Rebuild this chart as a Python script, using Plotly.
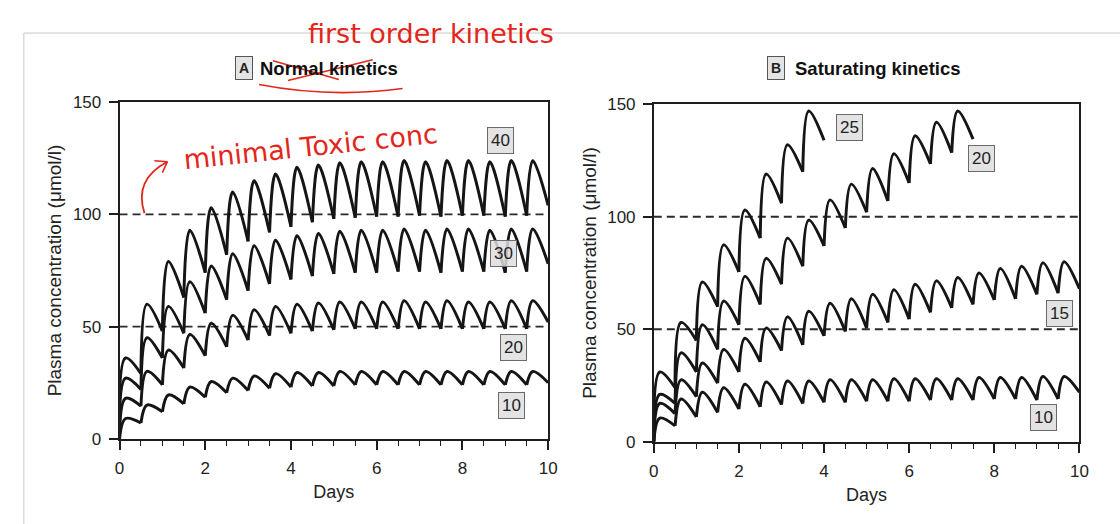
import plotly.graph_objects as go

W, H = 1120, 524

# ---------------- data ----------------
DOSE_INTERVAL = 0.5   # days between doses
PEAK_DELAY = 0.14     # days from dose to peak

# Panel A - normal (first-order) kinetics, dose labels 10/20/30/40
A_labels = ["40", "30", "20", "10"]
A40_peaks = [36, 60, 79, 93, 103, 110, 115, 118, 121, 122, 123, 123.5, 123.5, 124, 123.5, 124, 124, 123.5, 124, 124]
A40_troughs = [29, 48, 63, 74, 82, 88, 92, 94.5, 96.5, 98, 98.5, 99, 99, 99.5, 99, 99.5, 99.5, 99, 99.5, 104]
A30_peaks = [27, 45, 59, 70, 77, 82.5, 86, 88.5, 90.5, 91.5, 92.5, 93, 93, 93.5, 93, 93.5, 93.5, 93, 93.5, 93.5]
A30_troughs = [22, 36, 47, 56, 62, 66, 69, 71, 72.5, 73.5, 74, 74, 74.5, 74.5, 74, 74.5, 74.5, 74, 74.5, 78]
A20_peaks = [18, 30, 39.5, 46.5, 51.5, 55, 57.5, 59, 60, 60.5, 61, 61, 61, 61.5, 61, 61.5, 61, 61, 61.5, 61.5]
A20_troughs = [14.5, 24, 31.5, 37, 41, 44, 46, 47, 48, 48.5, 49, 49, 49, 49, 49, 49, 49, 49, 49, 52]
A10_peaks = [9, 15, 19.5, 23, 25.5, 27, 28, 29, 29.5, 29.5, 30, 30, 30, 30, 30, 30, 30, 30, 30, 30]
A10_troughs = [7, 12, 15.5, 18.5, 20.5, 21.5, 22.5, 23, 23.5, 23.5, 24, 24, 24, 24, 24, 24, 24, 24, 24, 25]
A_label_x = [8.88, 8.96, 9.19, 9.14]
A_label_y = [133, 82.7, 40.8, 14.8]

# Panel B - saturating kinetics, dose labels 10/15/20/25
B_labels = ["25", "20", "15", "10"]
B25_peaks = [31, 53, 71, 87.5, 103, 119, 132, 147]
B25_troughs = [24, 45, 60, 75.5, 90.5, 106, 120, 134]
B20_peaks = [21, 39.5, 52, 62.5, 73.5, 81.5, 90.5, 98.5, 107.5, 114.5, 121.5, 128, 136, 142, 147]
B20_troughs = [17, 31, 41, 52, 61, 70, 78, 87, 95, 102, 107, 115, 123.5, 128.5, 134.5]
B15_peaks = [17, 27.5, 35, 41, 46, 50.5, 55.5, 58, 61.5, 63.5, 65.5, 67.5, 70, 71.5, 73, 75, 77, 78, 79.5, 80]
B15_troughs = [12.5, 20, 26, 31, 35.5, 40.5, 43, 47, 49, 50.5, 53, 54.5, 57.5, 59.5, 61, 63, 63.5, 65.5, 66, 68]
B10_peaks = [10.5, 19, 22, 24, 25.5, 26.5, 27, 27, 27.5, 27.5, 27.5, 28, 28, 28, 28, 28.5, 28.5, 28.5, 29, 29]
B10_troughs = [7, 11, 13, 14.5, 15.5, 16.5, 17, 17.5, 17.5, 18, 18, 18, 18.5, 18.5, 18.5, 19, 19, 18.5, 19, 22]
B_label_x = [4.59, 7.7, 9.53, 9.15]
B_label_y = [139.7, 125.8, 57, 10.7]

REF_LEVELS = [50, 100]   # dashed reference concentrations
X_TICKS = [0, 2, 4, 6, 8, 10]
Y_TICKS = [0, 50, 100, 150]

# ---------------- helpers ----------------
# the page is photographed slightly scaled; these map target pixels to paper fractions
SX, OX, SY, OY = 0.9907, 3.1, 0.974, 5.7

def px(x):
    return (x - OX) / SX / W

def py(y):
    return 1 - (y - OY) / SY / H


def arches(peaks, troughs):
    xs, ys = [], []
    prev = 0.0
    for k, (p, t) in enumerate(zip(peaks, troughs)):
        t0 = k * DOSE_INTERVAL
        xs += [t0, t0 + PEAK_DELAY, t0 + DOSE_INTERVAL, None]
        ys += [prev, p, t, None]
        prev = t
    return xs, ys


LINE = dict(color="#151515", width=3, shape="spline", smoothing=1.0)
FONT = "Liberation Sans, Arial, Helvetica, sans-serif"

fig = go.Figure()

panelA = [(A40_peaks, A40_troughs), (A30_peaks, A30_troughs),
          (A20_peaks, A20_troughs), (A10_peaks, A10_troughs)]
panelB = [(B25_peaks, B25_troughs), (B20_peaks, B20_troughs),
          (B15_peaks, B15_troughs), (B10_peaks, B10_troughs)]

for (xa, ya), panel in (("x", "y"), panelA), (("x2", "y2"), panelB):
    for lv in REF_LEVELS:
        fig.add_trace(go.Scatter(x=[0, 10], y=[lv, lv], mode="lines", xaxis=xa, yaxis=ya,
                                 line=dict(color="#2a2a2a", width=1.8, dash="8px,5px"),
                                 hoverinfo="skip", showlegend=False))
    for pk, tr in panel:
        xs, ys = arches(pk, tr)
        fig.add_trace(go.Scatter(x=xs, y=ys, mode="lines", xaxis=xa, yaxis=ya,
                                 line=LINE, connectgaps=False,
                                 hoverinfo="skip", showlegend=False))

axis_common = dict(showline=True, mirror=True, linecolor="#1e1e1e", linewidth=1.7,
                   showgrid=False, zeroline=False, ticks="outside", ticklen=9,
                   tickwidth=1.5, tickcolor="#1e1e1e", ticklabelstandoff=4,
                   tickfont=dict(family=FONT, size=17, color="#222"))
minor = dict(ticks="outside", dtick=0.5, ticklen=5, tickwidth=1.2, tickcolor="#1e1e1e")
ytitle = dict(text="Plasma concentration (μmol/l)", font=dict(family=FONT, size=19, color="#222"),
              standoff=6)
xtitle = dict(text="Days", font=dict(family=FONT, size=18, color="#222"), standoff=8)

xA = dict(axis_common, domain=[px(118), px(548)], range=[0, 10], tickvals=X_TICKS,
          minor=minor, title=xtitle, anchor="y")
yA = dict(axis_common, domain=[py(440), py(100)], range=[0, 150], tickvals=Y_TICKS,
          title=ytitle, anchor="x")
xB = dict(axis_common, domain=[px(654), px(1081)], range=[0, 10], tickvals=X_TICKS,
          minor=minor, title=xtitle, anchor="y2")
yB = dict(axis_common, domain=[py(443), py(102)], range=[0, 150], tickvals=Y_TICKS,
          title=ytitle, anchor="x2")

annotations = []
box = dict(bgcolor="rgba(222,222,222,0.85)", bordercolor="#6a6a6a", borderwidth=1, borderpad=3)
for lab, lx, ly in zip(A_labels, A_label_x, A_label_y):
    annotations.append(dict(x=lx, y=ly, xref="x", yref="y", text=lab, showarrow=False,
                            xanchor="center", yanchor="middle",
                            font=dict(family=FONT, size=17, color="#222"), **box))
for lab, lx, ly in zip(B_labels, B_label_x, B_label_y):
    annotations.append(dict(x=lx, y=ly, xref="x2", yref="y2", text=lab, showarrow=False,
                            xanchor="center", yanchor="middle",
                            font=dict(family=FONT, size=17, color="#222"), **box))

# panel titles
for letter, bx, tx, title in (("A", 243, 257, "Normal kinetics"), ("B", 777, 794, "Saturating kinetics")):
    annotations.append(dict(x=px(bx), y=py(65), xref="paper", yref="paper", text="<b>%s</b>" % letter,
                            showarrow=False, xanchor="center", yanchor="middle",
                            font=dict(family=FONT, size=14, color="#222"),
                            bgcolor="#e4e4e4", bordercolor="#555", borderwidth=1, borderpad=3))
    annotations.append(dict(x=px(tx), y=py(66), xref="paper", yref="paper", text="<b>%s</b>" % title,
                            xanchor="left", yanchor="middle", showarrow=False,
                            font=dict(family=FONT, size=18.5, color="#111")))

# handwritten notes (red)
RED = "#e3261c"
annotations.append(dict(x=px(430), y=py(30), xref="paper", yref="paper", text="first order kinetics",
                        showarrow=False, xanchor="center", yanchor="middle",
                        font=dict(family="DejaVu Sans, sans-serif", size=27, color=RED)))
annotations.append(dict(x=px(310), y=py(145), xref="paper", yref="paper", text="minimal Toxic conc",
                        showarrow=False, textangle=-6, xanchor="center", yanchor="middle",
                        font=dict(family="DejaVu Sans, sans-serif", size=27, color=RED)))

shapes = []
def seg(x0, y0, x1, y1, color=RED, width=1.6):
    shapes.append(dict(type="line", xref="paper", yref="paper", x0=px(x0), y0=py(y0),
                       x1=px(x1), y1=py(y1), line=dict(color=color, width=width)))

# arrow to the 100 line
shapes.append(dict(type="path", xref="paper", yref="paper",
                   path="M %f %f Q %f %f %f %f" % (px(143), py(212), px(132), py(178), px(166), py(160)),
                   line=dict(color=RED, width=1.8)))
seg(166, 160, 153, 159)
seg(166, 160, 161, 171)
# scribbles on the title
seg(272, 58, 338, 77)
seg(287, 78, 372, 57)
shapes.append(dict(type="path", xref="paper", yref="paper",
                   path="M %f %f Q %f %f %f %f" % (px(258), py(82), px(330), py(96), px(402), py(86)),
                   line=dict(color=RED, width=1.6)))
# faint scan border
seg(22, 30, 1125, 30, color="#c8c8c8", width=1)
seg(22, 30, 22, 530, color="#c8c8c8", width=1)

fig.update_layout(width=W, height=H, margin=dict(l=0, r=0, t=0, b=0),
                  paper_bgcolor="white", plot_bgcolor="white",
                  xaxis=xA, yaxis=yA, xaxis2=xB, yaxis2=yB,
                  annotations=annotations, shapes=shapes, showlegend=False)

fig.write_html("out.html")
